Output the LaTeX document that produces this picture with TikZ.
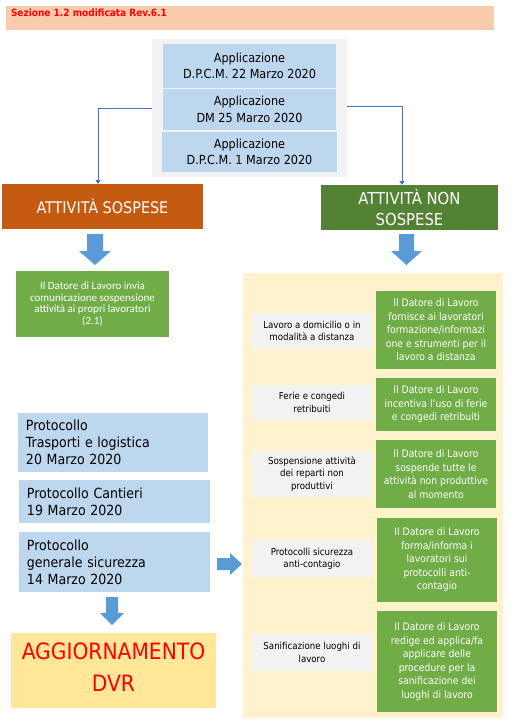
\documentclass[tikz,border=0pt]{standalone}
\usepackage{fontspec}
\setmainfont{DejaVu Sans Condensed}
\newfontfamily\calfont{Carlito}
\usetikzlibrary{arrows.meta,calc}
\definecolor{cpeach}{HTML}{F8CBAD}
\definecolor{cgray}{HTML}{F2F2F2}
\definecolor{cblue}{HTML}{BDD7EE}
\definecolor{corange}{HTML}{C55A11}
\definecolor{cdkgreen}{HTML}{548235}
\definecolor{cgreen}{HTML}{70AD47}
\definecolor{cyellow}{HTML}{FFF2CC}
\definecolor{carrow}{HTML}{5B9BD5}
\definecolor{cconn}{HTML}{4472C4}
\definecolor{cgold}{HTML}{FFE699}
\definecolor{cred}{HTML}{FF0000}
\tikzset{
  x=1pt,y=-1pt,
  box/.style={inner sep=0pt,outer sep=0pt,align=center},
  bluebox/.style={box,fill=cblue,font=\fontsize{12.5}{16.5}\selectfont},
  protbox/.style={box,fill=cblue,font=\fontsize{14}{17}\selectfont,align=left},
  graylbl/.style={box,fill=cgray,minimum width=120,font=\fontsize{9.6}{12.3}\selectfont},
  greenact/.style={box,fill=cgreen,text=white,minimum width=120,font=\fontsize{10.3}{13.5}\selectfont},
  conn/.style={draw=cconn,line width=0.9pt,-{Triangle[width=5pt,length=4pt]}},
  blockarrow/.style={fill=carrow,draw=none},
}
\begin{document}
\begin{tikzpicture}
\useasboundingbox (0,0) rectangle (509,724);
% header
\node[box,fill=cpeach,minimum width=488,minimum height=24] (hdr) at (250,18) {};
\node[box,anchor=west,text=cred,font=\fontsize{10}{11}\selectfont\bfseries] (hdrtxt) at (11,13) {Sezione 1.2 modificata Rev.6.1};
% top group
\node[box,fill=cgray,minimum width=195,minimum height=138] (cont) at (249.5,108) {};
\node[bluebox,minimum width=173,minimum height=44] (b1) at (249.5,66) {Applicazione\\D.P.C.M. 22 Marzo 2020};
\node[bluebox,minimum width=173,minimum height=41] (b2) at (249.5,109.5) {Applicazione\\DM 25 Marzo 2020};
\node[bluebox,minimum width=175,minimum height=40] (b3) at (249.5,152) {Applicazione\\D.P.C.M. 1 Marzo 2020};
% category boxes
\node[box,fill=corange,text=white,minimum width=201,minimum height=45,font=\fontsize{16}{19}\selectfont] (sosp) at (102.5,206.5) {ATTIVITÀ SOSPESE};
\node[box,fill=cdkgreen,text=white,minimum width=177,minimum height=45,font=\fontsize{16.5}{21}\selectfont] (nonsosp) at (409.5,207.5) {ATTIVITÀ NON\\SOSPESE};
% connectors
\draw[conn] (cont.west) -| ([xshift=-4.5pt]sosp.north);
\draw[conn] ([yshift=2pt]cont.east) -| ([xshift=-7.5pt]nonsosp.north);
% block arrows down
\fill[blockarrow] (87,234) -- (103,234) -- (103,251) -- (111,251) -- (95,265) -- (79,251) -- (87,251) -- cycle;
\fill[blockarrow] (399,234) -- (414,234) -- (414,251) -- (422,251) -- (406.5,265) -- (391,251) -- (399,251) -- cycle;
% left green
\node[box,fill=cgreen,text=white,minimum width=153,minimum height=66,font=\calfont\fontsize{11}{11.8}\selectfont] (inv) at (92.5,304) {Il Datore di Lavoro invia\\comunicazione sospensione\\attività ai propri lavoratori\\(2.1)};
% yellow panel
\node[box,fill=cyellow,minimum width=260,minimum height=445] (panel) at (373,495.5) {};
\node[graylbl,minimum height=36] (g1) at (312,331) {Lavoro a domicilio o in\\modalità a distanza};
\node[graylbl,minimum height=35] (g2) at (312,402.5) {Ferie e congedi\\retribuiti};
\node[graylbl,minimum height=46] (g3) at (312,474) {Sospensione attività\\dei reparti non\\produttivi};
\node[graylbl,minimum height=37] (g4) at (312,558.5) {Protocolli sicurezza\\anti-contagio};
\node[graylbl,minimum height=37] (g5) at (312,652.5) {Sanificazione luoghi di\\lavoro};
\node[greenact,minimum height=78] (r1) at (436,330) {Il Datore di Lavoro\\fornisce ai lavoratori\\formazione/informazi\\one e strumenti per il\\lavoro a distanza};
\node[greenact,minimum height=53] (r2) at (436,404.5) {Il Datore di Lavoro\\incentiva l’uso di ferie\\e congedi retribuiti};
\node[greenact,minimum height=68] (r3) at (436,474) {Il Datore di Lavoro\\sospende tutte le\\attività non produttive\\al momento};
\node[greenact,minimum height=84] (r4) at (437,560) {Il Datore di Lavoro\\forma/informa i\\lavoratori sui\\protocolli anti-\\contagio};
\node[greenact,minimum height=101] (r5) at (437,661.5) {Il Datore di Lavoro\\redige ed applica/fa\\applicare delle\\procedure per la\\sanificazione dei\\luoghi di lavoro};
% protocols
\node[protbox,minimum width=190,minimum height=59,text width=174] (p1) at (113,442.5) {Protocollo\\Trasporti e logistica\\20 Marzo 2020};
\node[protbox,minimum width=191,minimum height=43,text width=175] (p2) at (114.5,501.5) {Protocollo Cantieri\\19 Marzo 2020};
\node[protbox,minimum width=191,minimum height=60,text width=175] (p3) at (114.5,562) {Protocollo\\generale sicurezza\\14 Marzo 2020};
% arrows from protocols
\fill[blockarrow] (217,558) -- (230,558) -- (230,553) -- (242,564) -- (230,575) -- (230,570) -- (217,570) -- cycle;
\fill[blockarrow] (106,597) -- (118,597) -- (118,613) -- (124,613) -- (112,625) -- (100,613) -- (106,613) -- cycle;
% DVR
\node[box,fill=cgold,minimum width=205,minimum height=75] (dvr) at (113.5,670.5) {};
\node[box,text=cred,font=\fontsize{22.5}{32}\selectfont] (dvrtxt) at (113.5,667) {AGGIORNAMENTO\\DVR};
\end{tikzpicture}
\end{document}
